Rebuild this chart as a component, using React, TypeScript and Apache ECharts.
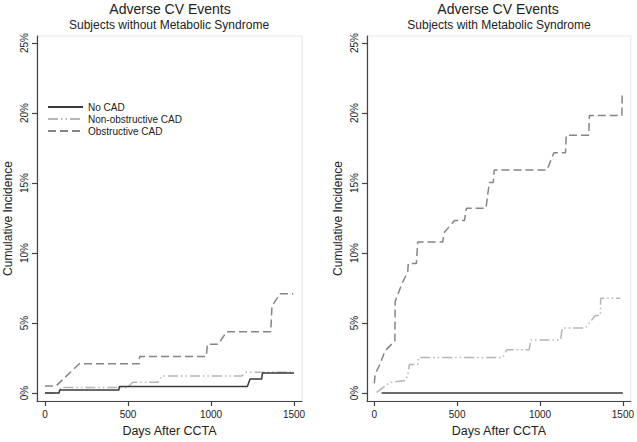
import React, { useEffect, useRef } from "react";
import * as echarts from "echarts";

// ---------- data (days after CCTA, cumulative incidence %) ----------
const seriesNames = ["No CAD", "Non-obstructive CAD", "Obstructive CAD"];
const xTicks = [0, 500, 1000, 1500];
const yTicks = [0, 5, 10, 15, 20, 25];

// Left panel: subjects without metabolic syndrome
const leftNoCadDays = [0, 85, 88, 445, 448, 1219, 1235, 1305, 1310, 1500];
const leftNoCadPct = [0, 0, 0.22, 0.22, 0.47, 0.47, 1.0, 1.0, 1.43, 1.43];

const leftNonObsDays = [0, 80, 95, 494, 530, 681, 705, 1185, 1211, 1500];
const leftNonObsPct = [0, 0, 0.4, 0.4, 0.78, 0.78, 1.22, 1.22, 1.49, 1.49];

const leftObsDays = [0, 66, 207, 568, 570, 972, 978, 1044, 1094, 1360, 1367, 1416, 1495];
const leftObsPct = [0.5, 0.5, 2.1, 2.1, 2.62, 2.62, 3.49, 3.49, 4.39, 4.39, 6.2, 7.1, 7.1];

// Right panel: subjects with metabolic syndrome
const rightNoCadDays = [44, 1500];
const rightNoCadPct = [0, 0];

const rightNonObsDays = [14, 94, 190, 204, 212, 262, 268, 774, 800, 934, 945, 1124, 1134, 1274, 1334, 1364, 1366, 1484];
const rightNonObsPct = [0.05, 0.76, 0.9, 1.46, 2.05, 2.05, 2.55, 2.55, 3.1, 3.1, 3.8, 3.8, 4.65, 4.65, 5.55, 5.55, 6.78, 6.78];

const rightObsDays = [0, 5, 34, 64, 124, 126, 164, 202, 205, 254, 262, 412, 424, 484, 544, 556, 674, 694, 718, 724, 1042, 1084, 1154, 1158, 1294, 1298, 1494, 1496];
const rightObsPct = [0.7, 1.35, 2.05, 3.0, 3.73, 6.56, 7.72, 8.69, 9.25, 9.25, 10.79, 10.79, 11.5, 12.32, 12.32, 13.2, 13.2, 15.04, 15.04, 15.93, 15.93, 17.17, 17.17, 18.41, 18.41, 19.83, 19.83, 21.42];

const zip = (xs: number[], ys: number[]) => xs.map((x, i) => [x, ys[i]]);

const FONT = "'Liberation Sans', Arial, Helvetica, sans-serif";
const COL_SOLID = "#3a3a3a";
const COL_NONOBS = "#b5b5b5";
const COL_OBS = "#858585";

export default function App() {
  const ref = useRef<HTMLDivElement>(null);

  useEffect(() => {
    if (!ref.current) return;
    const chart = echarts.init(ref.current, undefined, { renderer: "svg" });

    const grids = [
      { left: 37, top: 36, width: 265, height: 368 },
      { left: 367, top: 36, width: 265, height: 368 },
    ];

    const mkX = (gi: number, min: number) => ({
      type: "value",
      gridIndex: gi,
      min,
      max: 1548,
      name: "Days After CCTA",
      nameLocation: "middle",
      nameGap: 21,
      nameTextStyle: { fontFamily: FONT, fontSize: 12.5, color: "#222" },
      axisLine: { show: true, onZero: false, lineStyle: { color: "#444", width: 1.2 } },
      axisTick: { show: true, length: 5, customValues: xTicks, lineStyle: { color: "#444", width: 1.2 } },
      axisLabel: {
        customValues: xTicks,
        margin: 8,
        formatter: (v: number) => String(v),
        fontFamily: FONT,
        fontSize: 10,
        color: "#222",
      },
      splitLine: { show: false },
    });

    const mkY = (gi: number) => ({
      type: "value",
      gridIndex: gi,
      min: -0.57,
      max: 25.5,
      name: "Cumulative Incidence",
      nameLocation: "middle",
      nameRotate: 90,
      nameGap: 23,
      nameTextStyle: { fontFamily: FONT, fontSize: 12, color: "#222" },
      axisLine: { show: true, onZero: false, lineStyle: { color: "#444", width: 1.2 } },
      axisTick: { show: true, length: 5, customValues: yTicks, lineStyle: { color: "#444", width: 1.2 } },
      axisLabel: {
        customValues: yTicks,
        rotate: 90,
        margin: 8,
        formatter: (v: number) => `${v}%`,
        fontFamily: FONT,
        fontSize: 10,
        color: "#222",
      },
      splitLine: { show: false },
    });

    const mkSeries = (name: string, data: number[][], gi: number, color: string, dash: any, z: number) => ({
      type: "line",
      name,
      xAxisIndex: gi,
      yAxisIndex: gi,
      data,
      symbol: "none",
      showSymbol: false,
      z,
      lineStyle: { color, width: 1.5, type: dash },
      itemStyle: { color },
    });

    const nonObsDash = [10, 3, 1.5, 3, 1.5, 3];
    const obsDash = [8, 4];

    chart.setOption({
      animation: false,
      backgroundColor: "#ffffff",
      grid: grids.map((g) => ({ ...g, show: true, borderColor: "#e6e6e6", borderWidth: 1, backgroundColor: "transparent" })),
      xAxis: [mkX(0, -48), mkX(1, -44)],
      yAxis: [mkY(0), mkY(1)],
      legend: {
        data: seriesNames,
        orient: "vertical",
        left: 47,
        top: 102,
        itemWidth: 35,
        itemHeight: 12,
        itemGap: 2,
        padding: 0,
        itemStyle: { opacity: 0, color: "rgba(0,0,0,0)", borderWidth: 0 },
        textStyle: { fontFamily: FONT, fontSize: 10, color: "#222" },
      },
      series: [
        mkSeries(seriesNames[0], zip(leftNoCadDays, leftNoCadPct), 0, COL_SOLID, "solid", 3),
        mkSeries(seriesNames[1], zip(leftNonObsDays, leftNonObsPct), 0, COL_NONOBS, nonObsDash, 2),
        mkSeries(seriesNames[2], zip(leftObsDays, leftObsPct), 0, COL_OBS, obsDash, 2),
        mkSeries(seriesNames[0], zip(rightNoCadDays, rightNoCadPct), 1, COL_SOLID, "solid", 3),
        mkSeries(seriesNames[1], zip(rightNonObsDays, rightNonObsPct), 1, COL_NONOBS, nonObsDash, 2),
        mkSeries(seriesNames[2], zip(rightObsDays, rightObsPct), 1, COL_OBS, obsDash, 2),
      ],
      graphic: [
        { type: "text", x: 170, y: 9, style: { text: "Adverse CV Events", fontFamily: FONT, fontSize: 14, fill: "#222", textAlign: "center", textVerticalAlign: "middle" } },
        { type: "text", x: 169, y: 25, style: { text: "Subjects without Metabolic Syndrome", fontFamily: FONT, fontSize: 12, fill: "#222", textAlign: "center", textVerticalAlign: "middle" } },
        { type: "text", x: 498, y: 9, style: { text: "Adverse CV Events", fontFamily: FONT, fontSize: 14, fill: "#222", textAlign: "center", textVerticalAlign: "middle" } },
        { type: "text", x: 499, y: 25, style: { text: "Subjects with Metabolic Syndrome", fontFamily: FONT, fontSize: 12, fill: "#222", textAlign: "center", textVerticalAlign: "middle" } },
      ],
    });

    return () => chart.dispose();
  }, []);

  return (
    <div
      ref={ref}
      style={{ position: "fixed", left: 0, top: 0, width: 637, height: 442, background: "#fff" }}
    />
  );
}
